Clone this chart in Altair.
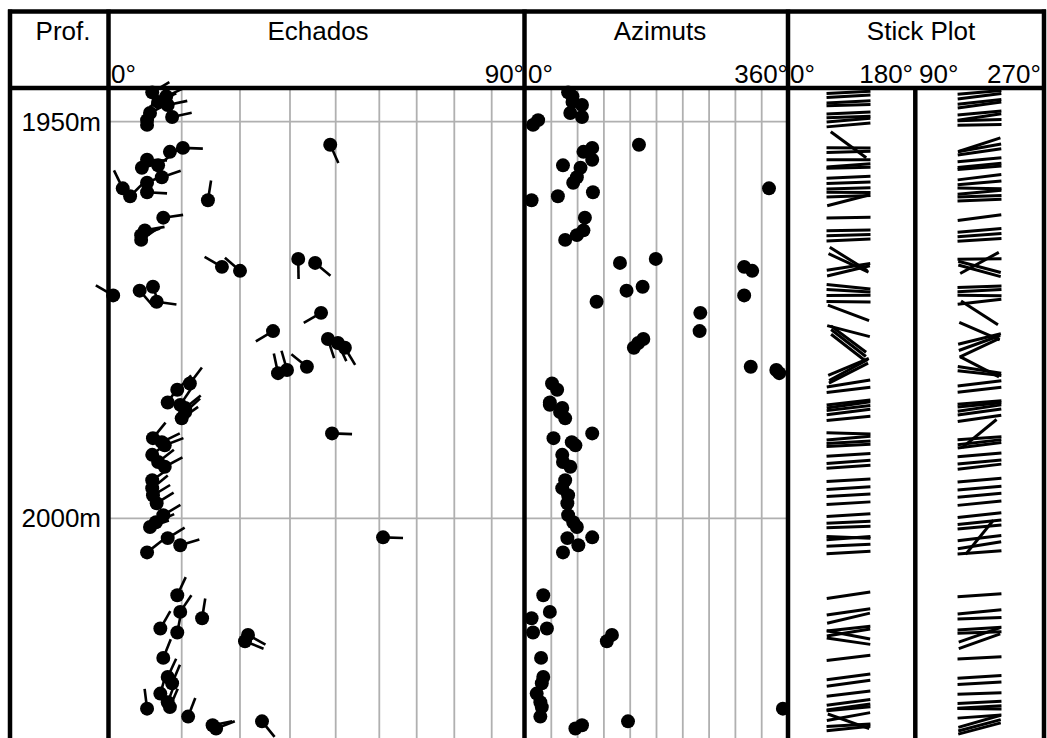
import math
import altair as alt
import pandas as pd

# ---------------- data ----------------
depth = [1946.3, 1946.8, 1947.5, 1947.9, 1948.9, 1949.4, 1949.8, 1950.4,
         1952.9, 1953.3, 1953.8, 1954.8, 1955.5, 1955.8, 1957.0, 1957.7,
         1958.4, 1958.9, 1959.4, 1959.9, 1962.1, 1963.7, 1964.3, 1964.9,
         1967.3, 1967.8, 1968.3, 1968.8, 1970.8, 1971.3, 1971.9, 1972.7,
         1974.1, 1976.4, 1977.4, 1977.9, 1978.5, 1980.9, 1981.3, 1981.7,
         1983.0, 1983.8, 1985.4, 1985.7, 1986.1, 1986.6, 1987.4, 1989.3,
         1989.9, 1990.4, 1990.8, 1992.0, 1992.9, 1993.5, 1995.2, 1996.2,
         1997.1, 1998.1, 1999.6, 2000.5, 2001.1, 2002.4, 2002.5, 2003.4,
         2004.3, 2009.7, 2011.8, 2012.6, 2013.9, 2014.4, 2014.7, 2015.5,
         2017.6, 2020.0, 2020.8, 2022.1, 2023.2, 2023.8, 2024.0, 2025.0,
         2025.6, 2026.1, 2026.5]
dip = [6.0, 7.9, 6.8, 8.1, 5.7, 8.7, 5.3, 5.3,
       38.8, 10.2, 8.4, 5.3, 6.8, 4.6, 7.3, 5.3,
       2.0, 5.3, 3.0, 14.5, 7.5, 5.0, 4.5, 4.5,
       31.8, 35.5, 16.9, 20.0, 6.1, 4.3, 0.7, 6.6,
       36.8, 26.6, 38.3, 40.5, 42.1, 33.7, 29.4, 27.6,
       11.4, 9.4, 8.1, 9.8, 10.6, 10.6, 10.0, 39.2,
       6.1, 7.3, 7.7, 6.0, 6.8, 7.7, 6.0, 6.0,
       6.1, 6.6, 7.5, 6.5, 5.7, 51.0, 8.1, 9.8,
       5.3, 9.4, 9.8, 13.5, 7.1, 9.4, 21.6, 21.0,
       7.5, 8.1, 8.7, 7.1, 8.1, 8.4, 5.3, 11.1,
       24.4, 15.3, 15.9]
azimuth = [59, 65, 65, 78, 62, 78, 18, 11,
           156, 92, 80, 92, 52, 76, 71, 66,
           334, 93, 45, 9, 82, 80, 71, 55,
           179, 130, 300, 311, 161, 139, 300, 98,
           240, 239, 162, 155, 149, 309, 344, 348,
           37, 44, 34, 34, 51, 48, 55, 92,
           39, 64, 69, 51, 52, 62, 55, 51,
           59, 58, 59, 66, 71, 92, 58, 73,
           52, 25, 34, 9, 30, 11, 119, 112,
           22, 25, 23, 16, 21, 23, 353, 21,
           141, 78, 69]

depth_marks = [1950, 2000]
depth_mark_labels = ["1950m", "2000m"]
dip_ticks = [0, 10, 20, 30, 40, 50, 60, 70, 80, 90]
azi_grid = [36, 72, 108, 144, 180, 216, 252, 288, 324]
headers = ["Prof.", "Echados", "Azimuts", "Stick Plot"]
sections = ["0-180", "90-270"]

# ---------------- layout / style ----------------
W, H = 1047, 738
FONT = "Liberation Sans"
FS = 26
GRID = "#b0b0b0"
TAIL = "M0,0L0,-1"
STICK = "M-1,0L1,0"

Y = alt.Scale(domain=[1945.75, 2027.7], range=[88, H], nice=False, zero=False)
DIP_X = alt.Scale(domain=dip_ticks,
                  range=[108, 181.7, 240, 290, 335.7, 379.3, 416.7, 454.3, 491.7, 524.5],
                  nice=False, zero=False)
AZ_X = alt.Scale(domain=[0, 360], range=[525, 788], nice=False, zero=False)
ST_X = alt.Scale(type="point", domain=sections, range=[848.5, 979.5], padding=0)

tad = pd.DataFrame({"depth": depth, "dip": dip, "az": azimuth})


def rot(d, a, f):
    app = math.degrees(math.atan(math.tan(math.radians(d)) * f(math.radians(a))))
    return (-app) % 360


sticks = pd.concat([
    pd.DataFrame({"depth": depth, "section": sections[0],
                  "rot": [rot(d, a, math.cos) for d, a in zip(dip, azimuth)]}),
    pd.DataFrame({"depth": depth, "section": sections[1],
                  "rot": [rot(d, a, math.sin) for d, a in zip(dip, azimuth)]}),
], ignore_index=True)

one = pd.DataFrame({"k": [0]})
layers = []

# grid
layers.append(alt.Chart(pd.DataFrame({"dip": dip_ticks[1:-1]})).mark_rule(
    color=GRID, strokeWidth=1.8).encode(
    x=alt.X("dip:Q", scale=DIP_X, axis=None), y=alt.value(88), y2=alt.value(H)))
layers.append(alt.Chart(pd.DataFrame({"az": azi_grid})).mark_rule(
    color=GRID, strokeWidth=1.8).encode(
    x=alt.X("az:Q", scale=AZ_X, axis=None), y=alt.value(88), y2=alt.value(H)))
layers.append(alt.Chart(pd.DataFrame({"depth": depth_marks})).mark_rule(
    color=GRID, strokeWidth=1.8).encode(
    y=alt.Y("depth:Q", scale=Y, axis=None), x=alt.value(108), x2=alt.value(788)))


# frame
def hline(y, x1, x2):
    return alt.Chart(one).mark_rule(color="black", strokeWidth=4.5).encode(
        x=alt.value(x1), x2=alt.value(x2), y=alt.value(y))


def vline(x, y1, y2):
    return alt.Chart(one).mark_rule(color="black", strokeWidth=4.5).encode(
        x=alt.value(x), y=alt.value(y1), y2=alt.value(y2))


layers += [hline(11.5, 8, 1046), hline(88, 8, 1046),
           vline(10, 9.5, H), vline(108.5, 9.5, H), vline(524.5, 9.5, H),
           vline(788, 9.5, H), vline(915.3, 88, H), vline(1044, 9.5, H)]


def label(text, x, y, align):
    return alt.Chart(one).mark_text(text=text, font=FONT, fontSize=FS, color="black",
                                    align=align, baseline="alphabetic").encode(
        x=alt.value(x), y=alt.value(y))


layers += [label(headers[0], 63, 40, "center"), label(headers[1], 318, 40, "center"),
           label(headers[2], 660, 40, "center"), label(headers[3], 921, 40, "center"),
           label("0°", 111, 83, "left"), label("90°", 524, 83, "right"),
           label("0°", 528, 83, "left"), label("360°", 788, 83, "right"),
           label("0°", 790, 83, "left"), label("180°", 913, 83, "right"),
           label("90°", 919, 83, "left"), label("270°", 987, 83, "left")]

# depth labels
layers.append(alt.Chart(pd.DataFrame({"depth": depth_marks, "lab": depth_mark_labels})).mark_text(
    font=FONT, fontSize=FS, color="black", align="right", baseline="middle", dy=1).encode(
    y=alt.Y("depth:Q", scale=Y, axis=None), x=alt.value(101), text="lab:N"))

# tadpoles
layers.append(alt.Chart(tad).mark_point(shape=TAIL, size=1600, filled=False, strokeWidth=2.6,
                                        color="black", opacity=1).encode(
    x=alt.X("dip:Q", scale=DIP_X, axis=None), y=alt.Y("depth:Q", scale=Y, axis=None),
    angle=alt.Angle("az:Q", scale=None)))
layers.append(alt.Chart(tad).mark_circle(size=195, color="black", opacity=1).encode(
    x=alt.X("dip:Q", scale=DIP_X, axis=None), y=alt.Y("depth:Q", scale=Y, axis=None)))

# azimuths
layers.append(alt.Chart(tad).mark_circle(size=195, color="black", opacity=1).encode(
    x=alt.X("az:Q", scale=AZ_X, axis=None), y=alt.Y("depth:Q", scale=Y, axis=None)))

# stick plot
layers.append(alt.Chart(sticks).mark_point(shape=STICK, size=1936, filled=False, strokeWidth=3,
                                           color="black", opacity=1).encode(
    x=alt.X("section:N", scale=ST_X, axis=None), y=alt.Y("depth:Q", scale=Y, axis=None),
    angle=alt.Angle("rot:Q", scale=None)))

chart = alt.layer(*layers).resolve_scale(x="independent").properties(
    width=W, height=H, autosize=alt.AutoSizeParams(type="none"), padding=0,
    background="white").configure_view(stroke=None)

chart.save("out.html", embed_options={"renderer": "svg", "actions": False})
